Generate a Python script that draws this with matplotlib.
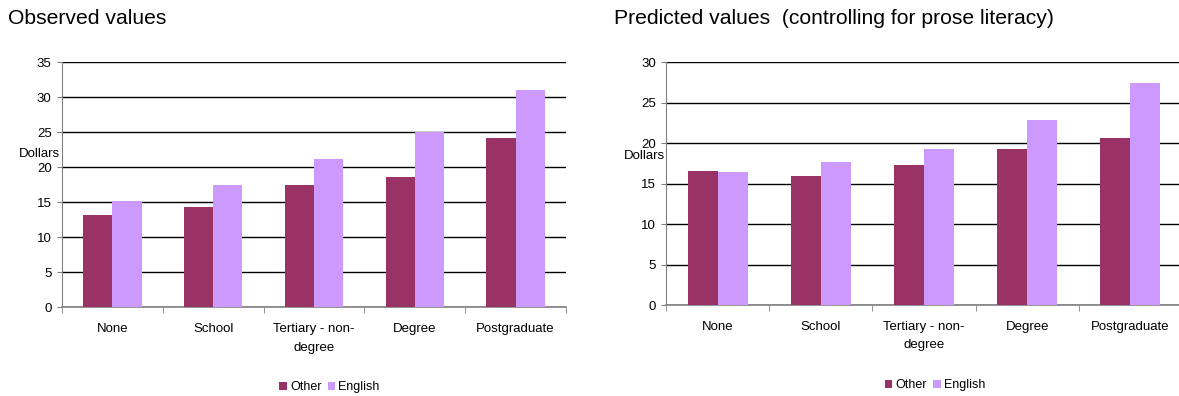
import matplotlib
matplotlib.use("Agg")
import matplotlib.pyplot as plt
import numpy as np

plt.rcParams['font.family'] = ['Liberation Sans', 'DejaVu Sans']

categories = ["None", "School", "Tertiary - non-\ndegree", "Degree", "Postgraduate"]
series_names = ["Other", "English"]

observed_other = [13.2, 14.3, 17.5, 18.6, 24.2]
observed_english = [15.2, 17.5, 21.2, 25.0, 31.0]

predicted_other = [16.55, 15.95, 17.3, 19.3, 20.6]
predicted_english = [16.45, 17.7, 19.3, 22.85, 27.45]

OTHER_COLOR = "#993366"
ENGLISH_COLOR = "#CC99FF"
AXIS_GRAY = "#808080"

fig = plt.figure(figsize=(11.79, 3.96), dpi=100)
W, H = 1179, 396


def px_axes(x0, y_top, x1, y_bot):
    return fig.add_axes([x0 / W, 1 - y_bot / H, (x1 - x0) / W, (y_bot - y_top) / H])


def draw_panel(ax, other, english, ymax, step, title, title_x, legend_center):
    x = np.arange(len(categories))
    bw = 0.29
    b1 = ax.bar(x - bw / 2, other, width=bw, color=OTHER_COLOR, label=series_names[0], zorder=3)
    b2 = ax.bar(x + bw / 2, english, width=bw, color=ENGLISH_COLOR, label=series_names[1], zorder=3)

    ax.set_xlim(-0.5, len(categories) - 0.5)
    ax.set_ylim(0, ymax)
    ax.set_yticks(np.arange(0, ymax + 0.01, step))
    ax.yaxis.grid(True, color="black", linewidth=1.0, zorder=1)
    ax.set_axisbelow(True)

    ax.set_xticks(x)
    ax.set_xticklabels(categories, fontsize=9.5, linespacing=1.7)
    ax.set_xticks(np.arange(-0.5, len(categories)), minor=True)
    ax.tick_params(axis="x", which="major", length=0, pad=11.5)
    ax.tick_params(axis="x", which="minor", length=4, color=AXIS_GRAY, direction="out")
    ax.tick_params(axis="y", length=3.5, color=AXIS_GRAY, labelsize=9.5, pad=4)

    for side in ("top", "right"):
        ax.spines[side].set_visible(False)
    ax.spines["left"].set_color(AXIS_GRAY)
    ax.spines["bottom"].set_color(AXIS_GRAY)
    ax.spines["bottom"].set_linewidth(1.2)

    ax.set_ylabel("Dollars", rotation=0, fontsize=9.5, ha="center", va="center")

    fig.text(title_x / W, 1 - 19 / H, title, fontsize=15.2, ha="left", va="center")

    fig.legend(handles=[b1, b2], loc="center", bbox_to_anchor=(legend_center[0] / W, 1 - legend_center[1] / H),
               ncol=2, frameon=False, fontsize=9, handlelength=0.6, handleheight=0.6,
               handletextpad=0.25, columnspacing=0.5, borderpad=0)


ax1 = px_axes(62, 62.3, 566, 307.3)
draw_panel(ax1, observed_other, observed_english, 35, 5, "Observed values", 8, (329.5, 387))
ax1.yaxis.set_label_coords(-0.0446, 0.626)

ax2 = px_axes(666.3, 62.3, 1181.8, 305)
draw_panel(ax2, predicted_other, predicted_english, 30, 5,
           "Predicted values  (controlling for prose literacy)", 614, (935, 385))
ax2.yaxis.set_label_coords(-0.0423, 0.615)

fig.savefig("out.png", dpi=100)
